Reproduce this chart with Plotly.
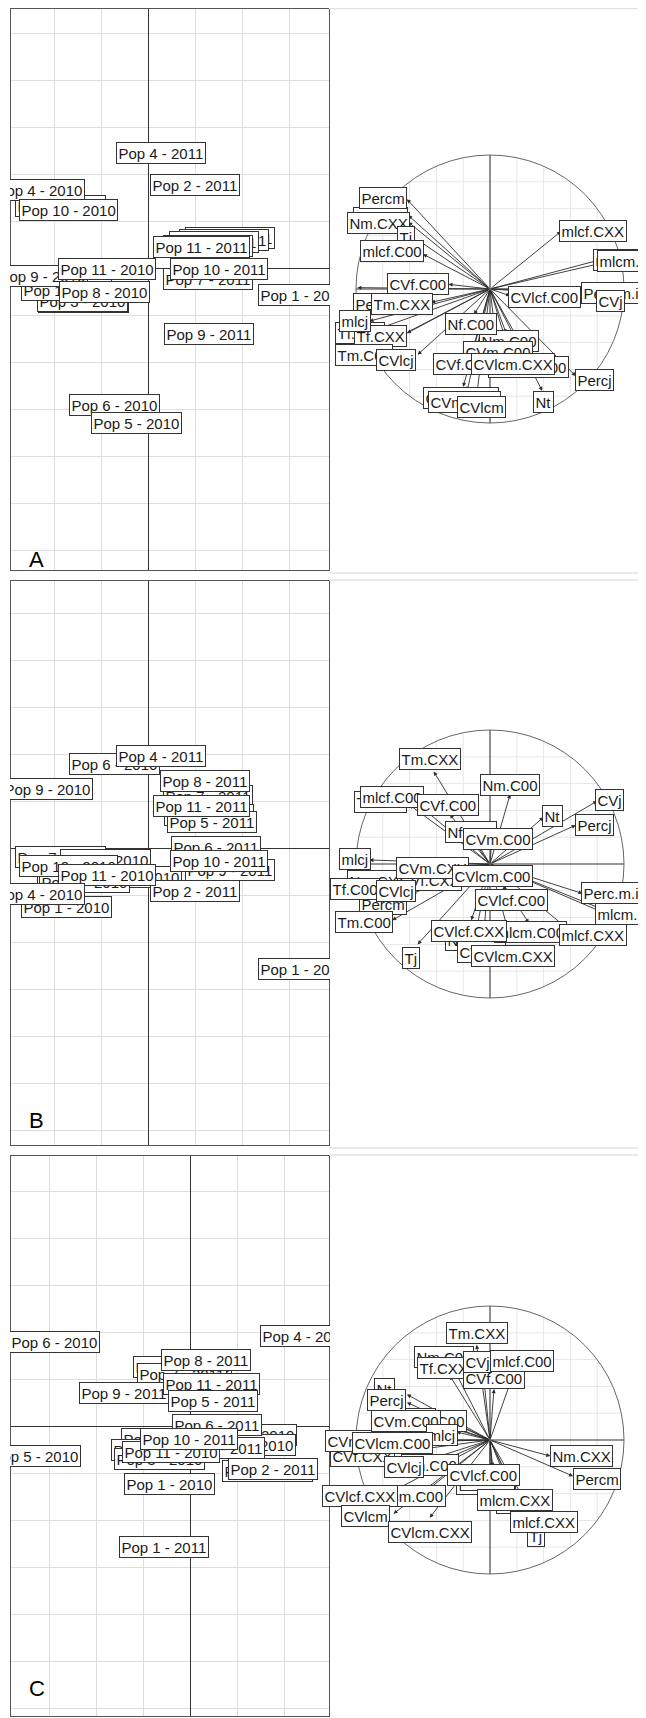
import math
import plotly.graph_objects as go

# ---------------- data ----------------
# individuals (left maps), label centres in grid units
POP_A_LABEL = ["Pop 7 - 2010", "Pop 3 - 2011", "Pop 8 - 2011", "Pop 5 - 2011", "Pop 6 - 2011",
               "Pop 2 - 2010", "Pop 3 - 2010", "Pop 1 - 2010", "Pop 7 - 2011",
               "Pop 4 - 2011", "Pop 2 - 2011", "Pop 4 - 2010", "Pop 10 - 2010", "Pop 11 - 2011",
               "Pop 10 - 2011", "Pop 1 - 2011", "Pop 9 - 2011", "Pop 9 - 2010", "Pop 11 - 2010",
               "Pop 8 - 2010", "Pop 6 - 2010", "Pop 5 - 2010"]
POP_A_X = [-1.86, 1.73, 1.60, 1.39, 1.28, -1.38, -1.40, -1.73, 1.28,
           0.28, 0.99, -2.32, -1.69, 1.14, 1.50, 3.30, 1.29, -2.26, -0.88, -0.93, -0.71, -0.25]
POP_A_Y = [1.32, 0.65, 0.60, 0.56, 0.47, -0.72, -0.69, -0.46, -0.23,
           2.45, 1.78, 1.67, 1.24, 0.46, -0.02, -0.56, -1.40, -0.17, -0.02, -0.50, -2.90, -3.28]

POP_B_LABEL = ["Pop 7 - 2011", "Pop 3 - 2011", "Pop 5 - 2011", "Pop 9 - 2011", "Pop 7 - 2010",
               "Pop 8 - 2010", "Pop 2 - 2010", "Pop 3 - 2010", "Pop 5 - 2010",
               "Pop 6 - 2010", "Pop 4 - 2011", "Pop 9 - 2010", "Pop 8 - 2011", "Pop 11 - 2011",
               "Pop 6 - 2011", "Pop 10 - 2011", "Pop 2 - 2011", "Pop 1 - 2011", "Pop 10 - 2010",
               "Pop 11 - 2010", "Pop 1 - 2010", "Pop 4 - 2010"]
POP_B_X = [1.28, 1.29, 1.35, 1.73, -1.86, -0.92, -0.25, -1.40, -1.35,
           -0.71, 0.28, -2.15, 1.21, 1.14, 1.44, 1.50, 0.99, 3.30, -1.69, -0.88, -1.73, -2.32]
POP_B_Y = [1.11, 0.70, 0.55, -0.46, -0.19, -0.25, -0.61, -0.69, -0.72,
           1.79, 1.95, 1.25, 1.42, 0.89, 0.02, -0.27, -0.91, -2.58, -0.39, -0.57, -1.25, -0.97]

POP_C_LABEL = ["Pop 10 - 2010", "Pop 7 - 2011", "Pop 4 - 2010", "Pop 2 - 2010", "Pop 3 - 2011",
               "Pop 7 - 2010", "Pop 8 - 2010", "Pop 3 - 2010", "Pop 11 - 2010", "Pop 9 - 2010",
               "Pop 6 - 2010", "Pop 4 - 2011", "Pop 8 - 2011", "Pop 9 - 2011", "Pop 11 - 2011",
               "Pop 5 - 2011", "Pop 6 - 2011", "Pop 10 - 2011", "Pop 2 - 2011", "Pop 5 - 2010",
               "Pop 1 - 2010", "Pop 1 - 2011"]
POP_C_X = [-0.16, -0.18, 1.31, 1.29, 0.63, -0.51, -0.71, -0.64, -0.40, 1.65,
           -2.89, 2.45, 0.35, -1.41, 0.45, 0.49, 0.57, -0.03, 1.77, -3.28, -0.43, -0.56]
POP_C_Y = [1.26, 1.11, -0.20, -0.40, -0.47, -0.28, -0.51, -0.71, -0.55, -0.96,
           1.79, 1.92, 1.41, 0.71, 0.90, 0.53, 0.02, -0.28, -0.92, -0.64, -1.23, -2.58]

# variables (correlation circles): arrow tips and label centres
VAR_A_NAME = ["Nf.CXX", "Percf", "Tf.C00", "CVlcm.C00", "CVlcf.CXX", "CVm.CXX", "mlcm.CXX", "Nm.C00",
              "Percm", "Nm.CXX", "Tj", "mlcf.C00", "CVf.C00", "Tm.CXX", "Tf.CXX", "mlcj", "Tm.C00",
              "CVlcj", "Nf.C00", "CVm.C00", "CVf.CXX", "CVlcm.CXX", "CVlcm", "Nt", "Percj",
              "CVlcf.C00", "Perc.m.i", "CVj", "mlcm.C00", "mlcf.CXX"]
VAR_A_X = [-0.61, -0.99, -0.87, 0.28, -0.20, -0.17, 0.83, 0.12,
           -0.62, -0.61, -0.53, -0.50, -0.31, -0.44, -0.62, -0.90, -0.80,
           -0.54, -0.12, 0.05, -0.14, 0.15, -0.10, 0.39, 0.64,
           0.15, 0.70, 0.80, 0.82, 0.53]
VAR_A_Y = [0.55, 0.01, -0.31, -0.50, -0.73, -0.76, 0.22, -0.33,
           0.67, 0.50, 0.36, 0.26, 0.035, -0.10, -0.33, -0.24, -0.42,
           -0.49, -0.19, -0.41, -0.49, -0.49, -0.80, -0.76, -0.65,
           -0.05, -0.01, -0.05, 0.19, 0.43]
VAR_A_LX = [-0.82, -0.87, -0.97, 0.29, -0.22, -0.19, 1.05, 0.14,
            -0.80, -0.83, -0.63, -0.73, -0.54, -0.66, -0.82, -1.01, -0.94,
            -0.70, -0.14, 0.06, -0.18, 0.17, -0.06, 0.40, 0.78,
            0.41, 0.90, 0.90, 1.07, 0.77]
VAR_A_LY = [0.53, -0.11, -0.33, -0.58, -0.81, -0.84, 0.22, -0.39,
            0.68, 0.49, 0.39, 0.28, 0.04, -0.11, -0.35, -0.24, -0.49,
            -0.53, -0.26, -0.47, -0.56, -0.56, -0.88, -0.84, -0.68,
            -0.06, -0.03, -0.09, 0.21, 0.43]

VAR_B_NAME = ["Tf.CXX", "Nm.CXX", "CVf.CXX", "Percf", "Nf.CXX", "CVlcm", "Percm",
              "Tm.CXX", "mlcf.C00", "CVf.C00", "Nm.C00", "CVj", "Nt", "Percj", "Nf.C00", "CVm.C00",
              "mlcj", "CVm.CXX", "Tf.C00", "CVlcj", "Tm.C00", "CVlcm.C00", "CVlcf.C00", "Perc.m.i",
              "mlcm.CXX", "mlcm.C00", "mlcf.CXX", "CVlcf.CXX", "CVlcm.CXX", "Tj"]
VAR_B_X = [-0.60, -0.58, -0.35, 0.82, -0.10, -0.05, -0.58,
           -0.42, -0.52, -0.30, 0.15, 0.80, 0.40, 0.64, -0.22, 0.02,
           -0.90, -0.30, -0.84, -0.55, -0.73, 0.10, 0.12, 0.69,
           0.84, 0.29, 0.55, -0.14, 0.16, -0.54]
VAR_B_Y = [0.44, -0.10, -0.08, -0.33, -0.48, -0.55, -0.22,
           0.69, 0.43, 0.37, 0.52, 0.47, 0.35, 0.29, 0.31, 0.26,
           0.03, -0.02, -0.18, -0.17, -0.42, -0.08, -0.20, -0.22,
           -0.36, -0.44, -0.46, -0.42, -0.59, -0.60]
VAR_B_LX = [-0.82, -0.83, -0.45, 0.99, -0.13, -0.06, -0.80,
            -0.45, -0.73, -0.31, 0.15, 0.89, 0.47, 0.78, -0.14, 0.06,
            -1.01, -0.43, -1.01, -0.70, -0.94, 0.02, 0.16, 0.90,
            1.07, 0.30, 0.77, -0.16, 0.17, -0.59]
VAR_B_LY = [0.46, -0.13, -0.12, -0.34, -0.57, -0.66, -0.30,
            0.78, 0.50, 0.44, 0.59, 0.48, 0.36, 0.29, 0.24, 0.19,
            0.04, -0.03, -0.19, -0.20, -0.43, -0.09, -0.27, -0.22,
            -0.37, -0.51, -0.53, -0.50, -0.69, -0.70]

VAR_C_NAME = ["Nm.C00", "Nt", "Tf.C00", "CVf.CXX", "Tm.C00", "Perc.m.i", "mlcm.C00", "Nf.C00",
              "Nf.CXX", "Percf", "CVm.CXX",
              "Tm.CXX", "Tf.CXX", "CVf.C00", "CVj", "mlcf.C00", "Percj", "CVm.C00", "mlcj",
              "CVlcm.C00", "CVlcj", "CVlcf.C00", "CVlcf.CXX", "CVlcm", "CVlcm.CXX", "mlcm.CXX",
              "Tj", "mlcf.CXX", "Nm.CXX", "Percm"]
VAR_C_X = [-0.28, -0.62, -0.25, -0.75, -0.35, 0.02, -0.45, -0.45,
           0.00, 0.18, -0.70,
           -0.10, -0.30, 0.03, -0.05, 0.18, -0.62, -0.38, -0.25,
           -0.45, -0.50, 0.02, -0.72, -0.72, -0.45, 0.15,
           0.30, 0.30, 0.45, 0.62]
VAR_C_Y = [0.55, 0.34, 0.12, -0.10, -0.15, -0.28, -0.36, 0.14,
           -0.25, -0.38, 0.00,
           0.71, 0.48, 0.38, 0.50, 0.51, 0.28, 0.13, 0.06,
           -0.01, -0.16, -0.20, -0.38, -0.55, -0.58, -0.37,
           -0.63, -0.52, -0.12, -0.27]
VAR_C_LX = [-0.34, -0.79, -0.36, -0.95, -0.45, -0.03, -0.60, -0.60,
            -0.02, 0.20, -0.96,
            -0.10, -0.35, 0.03, -0.09, 0.24, -0.77, -0.63, -0.36,
            -0.73, -0.64, -0.05, -0.97, -0.93, -0.45, 0.19,
            0.34, 0.40, 0.68, 0.80]
VAR_C_LY = [0.62, 0.38, 0.14, -0.12, -0.19, -0.33, -0.42, 0.16,
            -0.30, -0.47, -0.01,
            0.80, 0.54, 0.46, 0.58, 0.59, 0.30, 0.14, 0.04,
            -0.02, -0.20, -0.26, -0.42, -0.57, -0.69, -0.45,
            -0.72, -0.61, -0.12, -0.29]

PANEL_LETTERS = ["A", "B", "C"]

# ---------------- layout (pixels of the 646 x 1718 page) ----------------
OFF = 8                      # the page body margin pushes the figure by 8 px
W, H = 646 - OFF, 1718 - OFF
FONT = "Liberation Sans, Arial, sans-serif"
U = 47.0          # px per grid unit on the individual maps
R = 134.0         # px radius of the correlation circle
LX0, LX1 = 11, 329
CX = 490
ROWS = [
    dict(top=6, bottom=570, ox=148.3, oy=268.5, cy=289, ly=545, seps=[5, 573]),
    dict(top=581, bottom=1145, ox=148.3, oy=848, cy=864, ly=1120, seps=[580, 1148]),
    dict(top=1156, bottom=1716, ox=190, oy=1426, cy=1440, ly=1703, seps=[1155]),
]
pops = [(POP_A_LABEL, POP_A_X, POP_A_Y), (POP_B_LABEL, POP_B_X, POP_B_Y), (POP_C_LABEL, POP_C_X, POP_C_Y)]
vars_ = [(VAR_A_NAME, VAR_A_X, VAR_A_Y, VAR_A_LX, VAR_A_LY),
         (VAR_B_NAME, VAR_B_X, VAR_B_Y, VAR_B_LX, VAR_B_LY),
         (VAR_C_NAME, VAR_C_X, VAR_C_Y, VAR_C_LX, VAR_C_LY)]


def clamp_y(y):
    return min(max(y, OFF + 0.6), OFF + H - 0.6)


def px(x):
    return min(max((x - OFF) / W, 0), 1)


def py(y):
    return min(max(1 - (y - OFF) / H, 0), 1)


fig = go.Figure()
annotations = []
shapes = []
layout = {}

box = dict(bgcolor="white", bordercolor="#333333", borderwidth=1, borderpad=1.5,
           font=dict(family=FONT, size=15, color="#1a1a1a"), showarrow=False)

for i, row in enumerate(ROWS):
    kl, kr = 2 * i + 1, 2 * i + 2
    xl, yl = f"x{kl}", f"y{kl}"
    xr, yr = f"x{kr}", f"y{kr}"
    top, bottom = clamp_y(row["top"]), clamp_y(row["bottom"])
    # individual map axes
    layout[f"xaxis{kl}"] = dict(domain=[px(LX0), px(LX1)], anchor=yl,
                               range=[(LX0 - row["ox"]) / U, (LX1 - row["ox"]) / U],
                               tick0=0, dtick=1, showticklabels=False, ticks="",
                               gridcolor="#dedede", gridwidth=1, zeroline=True,
                               zerolinecolor="#333333", zerolinewidth=1.1,
                               showline=True, mirror=True, linecolor="#555555", linewidth=1.3)
    layout[f"yaxis{kl}"] = dict(domain=[py(bottom), py(top)], anchor=xl,
                               range=[(row["oy"] - bottom) / U, (row["oy"] - top) / U],
                               tick0=0, dtick=1, showticklabels=False, ticks="",
                               gridcolor="#dedede", gridwidth=1, zeroline=True,
                               zerolinecolor="#333333", zerolinewidth=1.1,
                               showline=True, mirror=True, linecolor="#555555", linewidth=1.3)
    # correlation circle axes (grid drawn inside the circle only)
    layout[f"xaxis{kr}"] = dict(domain=[px(CX - 1.12 * R), px(CX + 1.12 * R)], anchor=yr,
                               range=[-1.12, 1.12], showgrid=False, zeroline=False,
                               showticklabels=False, ticks="", showline=False)
    layout[f"yaxis{kr}"] = dict(domain=[py(row["cy"] + 1.12 * R), py(row["cy"] - 1.12 * R)],
                               anchor=xr, range=[-1.12, 1.12], showgrid=False, zeroline=False,
                               showticklabels=False, ticks="", showline=False)
    for k in range(-4, 5):
        if k == 0:
            continue
        g = 0.2 * k
        h = math.sqrt(1 - g * g)
        shapes.append(dict(type="line", xref=xr, yref=yr, x0=g, x1=g, y0=-h, y1=h,
                           line=dict(color="#e6e6e6", width=1), layer="below"))
        shapes.append(dict(type="line", xref=xr, yref=yr, x0=-h, x1=h, y0=g, y1=g,
                           line=dict(color="#e6e6e6", width=1), layer="below"))
    shapes.append(dict(type="line", xref=xr, yref=yr, x0=0, x1=0, y0=-1, y1=1,
                       line=dict(color="#333333", width=1.1), layer="below"))
    shapes.append(dict(type="line", xref=xr, yref=yr, x0=-1, x1=1, y0=0, y1=0,
                       line=dict(color="#333333", width=1.1), layer="below"))

    labels, xs, ys = pops[i]
    fig.add_trace(go.Scatter(x=xs, y=ys, xaxis=xl, yaxis=yl, mode="markers",
                             marker=dict(opacity=0), hoverinfo="skip"))
    for t, x, y in zip(labels, xs, ys):
        annotations.append(dict(box, x=x, y=y, xref=xl, yref=yl, text=t))

    # masks that clip the labels at the map borders
    mid = py((top + bottom) / 2)
    hgt = bottom - top - 2
    annotations.append(dict(x=px(LX0 - 0.8), y=mid, xref="paper", yref="paper", xanchor="right",
                            yanchor="middle", text="", width=20, height=hgt, bgcolor="white",
                            borderwidth=0, borderpad=0, showarrow=False))
    annotations.append(dict(x=px(LX1 + 0.8), y=mid, xref="paper", yref="paper", xanchor="left",
                            yanchor="middle", text="", width=22, height=hgt, bgcolor="white",
                            borderwidth=0, borderpad=0, showarrow=False))

    annotations.append(dict(x=px(27), y=py(row["ly"]), xref="paper", yref="paper",
                            text=PANEL_LETTERS[i], showarrow=False,
                            font=dict(family=FONT, size=22, color="black")))

    # correlation circle
    names, tx, ty, lx, ly = vars_[i]
    fig.add_trace(go.Scatter(x=tx, y=ty, xaxis=xr, yaxis=yr, mode="markers",
                             marker=dict(opacity=0), hoverinfo="skip"))
    shapes.append(dict(type="circle", xref=xr, yref=yr, x0=-1, y0=-1, x1=1, y1=1,
                       line=dict(color="#555555", width=0.9), layer="above"))
    for x, y in zip(tx, ty):
        annotations.append(dict(x=x, y=y, ax=0, ay=0, xref=xr, yref=yr, axref=xr, ayref=yr,
                                text="", showarrow=True, arrowhead=2, arrowsize=0.9,
                                arrowwidth=0.9, arrowcolor="#2b2b2b", standoff=0))
    for t, x, y in zip(names, lx, ly):
        annotations.append(dict(box, x=x, y=y, xref=xr, yref=yr, text=t))

    for s in row["seps"]:
        sy = py(clamp_y(s))
        shapes.append(dict(type="line", xref="paper", yref="paper", x0=px(LX1), x1=1,
                           y0=sy, y1=sy, line=dict(color="#e3e3e3", width=1.5)))

fig.update_layout(**layout)
fig.update_layout(width=W, height=H, margin=dict(l=0, r=0, t=0, b=0),
                  paper_bgcolor="white", plot_bgcolor="white", showlegend=False,
                  annotations=annotations, shapes=shapes)

fig.write_html("out.html")
